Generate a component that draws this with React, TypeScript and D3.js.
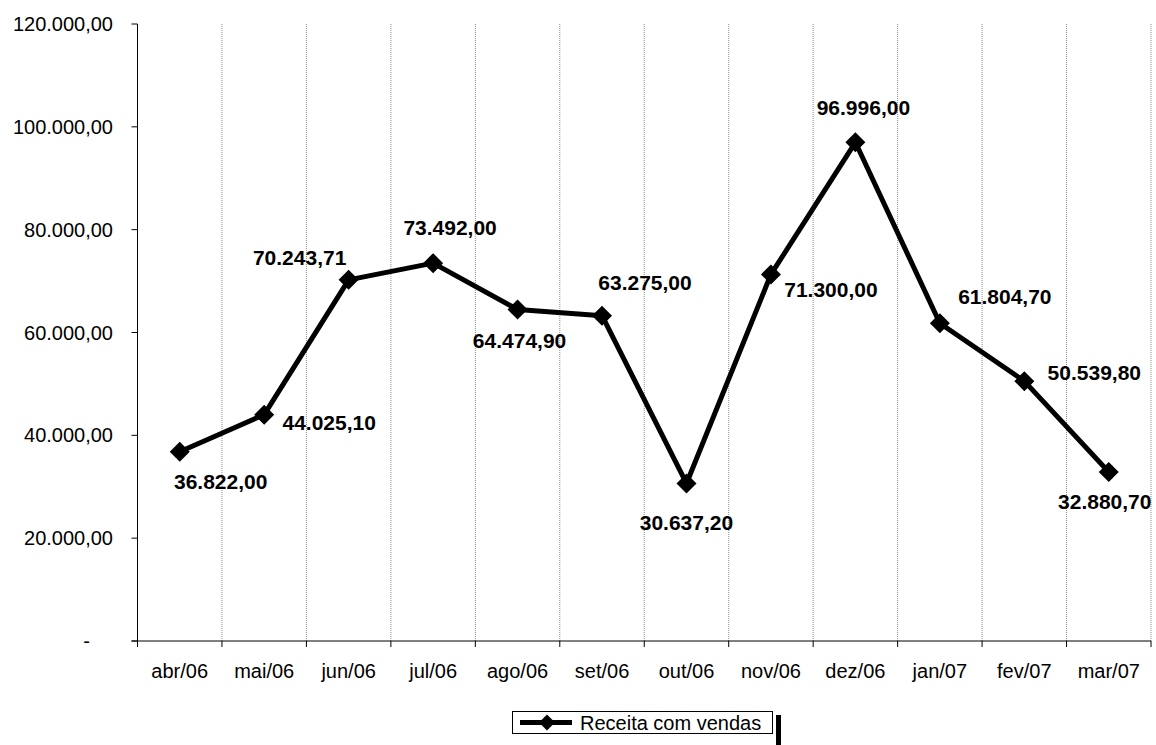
import React from "react";
import * as d3 from "d3";

// Monthly sales revenue
const months = ["abr/06", "mai/06", "jun/06", "jul/06", "ago/06", "set/06", "out/06", "nov/06", "dez/06", "jan/07", "fev/07", "mar/07"];
const receita = [36822.0, 44025.1, 70243.71, 73492.0, 64474.9, 63275.0, 30637.2, 71300.0, 96996.0, 61804.7, 50539.8, 32880.7];
const yTicks = [0, 20000, 40000, 60000, 80000, 100000, 120000];
const seriesName = "Receita com vendas";

// Label placement around each marker (text centre offset, px)
const labelOffsets: [number, number][] = [
  [41, 30], [65, 8], [-49, -22], [17, -36], [2, 31], [43, -33],
  [0, 39], [60, 15], [8, -35], [65, -27], [70, -9], [-4, 30],
];

const W = 1156;
const H = 745;
const left = 137.5;
const right = 1151;
const top = 24;
const bottom = 641;
const FONT = "'Liberation Sans', Arial, Helvetica, sans-serif";

const ptBR = (v: number) =>
  v.toLocaleString("pt-BR", { minimumFractionDigits: 2, maximumFractionDigits: 2 });

export default function App() {
  const x = d3.scaleBand<string>().domain(months).range([left, right]).padding(0);
  const y = d3.scaleLinear().domain([0, 120000]).range([bottom, top]);
  const cx = (i: number) => (x(months[i]) as number) + x.bandwidth() / 2;

  const line = d3
    .line<number>()
    .x((_, i) => cx(i))
    .y((d) => y(d));

  const boundaries = months.map((m) => x(m) as number).concat([right]);

  const diamond = (px: number, py: number, r: number) =>
    `M${px},${py - r}L${px + r},${py}L${px},${py + r}L${px - r},${py}Z`;

  return (
    <svg
      width={W}
      height={H}
      style={{ position: "absolute", left: 0, top: 0, background: "#fff" }}
      fontFamily={FONT}
    >
      {/* vertical dotted gridlines at category boundaries */}
      {boundaries.slice(1).map((bx, i) => (
        <line key={"g" + i} x1={bx} x2={bx} y1={top} y2={bottom} stroke="#8a8a8a" strokeWidth={1} strokeDasharray="1,1" />
      ))}

      {/* y axis */}
      <line x1={left} x2={left} y1={top} y2={bottom} stroke="#000" strokeWidth={1} />
      {yTicks.map((t) => (
        <g key={"yt" + t}>
          <line x1={left - 6} x2={left} y1={y(t)} y2={y(t)} stroke="#000" strokeWidth={1} />
          <text
            x={t === 0 ? 90 : 113}
            y={y(t) + 7}
            textAnchor="end"
            fontSize={20}
            fill="#000"
          >
            {t === 0 ? "-" : ptBR(t)}
          </text>
        </g>
      ))}

      {/* x axis */}
      <line x1={left - 6} x2={right} y1={bottom} y2={bottom} stroke="#000" strokeWidth={1} />
      {boundaries.map((bx, i) => (
        <line key={"xt" + i} x1={bx} x2={bx} y1={bottom} y2={bottom + 6} stroke="#000" strokeWidth={1} />
      ))}
      {months.map((m, i) => (
        <text key={"xl" + m} x={cx(i)} y={678} textAnchor="middle" fontSize={20} fill="#000">
          {m}
        </text>
      ))}

      {/* series line */}
      <path d={line(receita) || ""} fill="none" stroke="#000" strokeWidth={5} strokeLinejoin="round" />
      {receita.map((v, i) => (
        <path key={"m" + i} d={diamond(cx(i), y(v), 10)} fill="#000" />
      ))}

      {/* data labels */}
      {receita.map((v, i) => (
        <text
          key={"dl" + i}
          x={cx(i) + labelOffsets[i][0]}
          y={y(v) + labelOffsets[i][1] + 7.5}
          textAnchor="middle"
          fontSize={21}
          fontWeight="bold"
          fill="#000"
        >
          {ptBR(v)}
        </text>
      ))}

      {/* legend */}
      <g>
        <rect x={776} y={715} width={5} height={30} fill="#000" />
        <rect x={512.5} y={711.5} width={260} height={22} fill="#fff" stroke="#000" strokeWidth={1} />
        <line x1={520} x2={572} y1={722.5} y2={722.5} stroke="#000" strokeWidth={5} />
        <path d={diamond(547, 722.5, 8)} fill="#000" />
        <text x={580} y={729.5} fontSize={20} fill="#000">
          {seriesName}
        </text>
      </g>
    </svg>
  );
}
